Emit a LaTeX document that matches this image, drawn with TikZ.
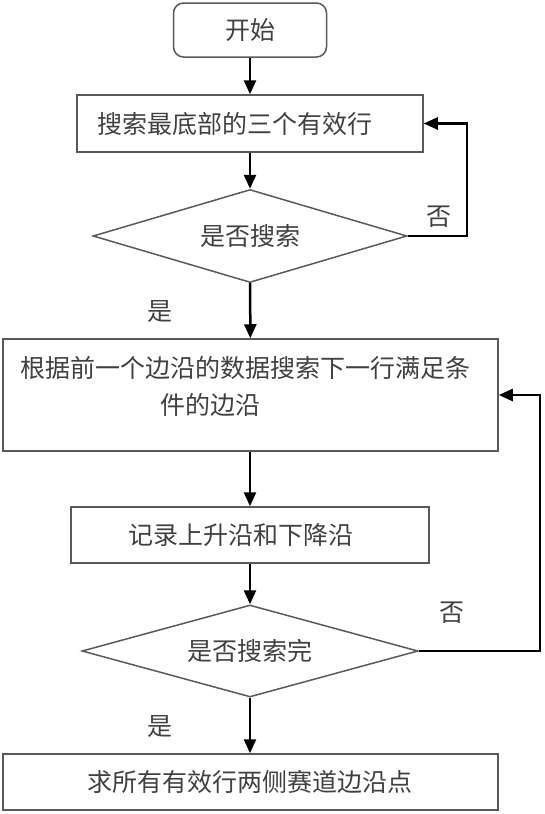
\documentclass[tikz,border=0pt]{standalone}
\usepackage{fontspec}
\newfontfamily\cjk{Noto Sans CJK SC}
\usetikzlibrary{shapes.geometric,arrows.meta}
\begin{document}
\begin{tikzpicture}[x=1pt, y=-1pt,
  every node/.style={font=\cjk\fontsize{25}{37}\selectfont, text=black!75},
  box/.style={draw=black!65, line width=1.5pt, align=left, inner ysep=0pt},
  decide/.style={diamond, aspect=3.5, draw=black!65, line width=1.5pt, inner sep=0pt},
  flow/.style={line width=2.5pt, -{Triangle[width=12pt,length=14pt]}}]
  \useasboundingbox (0,0) rectangle (544,814);
  \node[box, rounded corners=10pt, align=center, minimum width=153pt, minimum height=54pt] (start) at (250,30) {开始};
  \node[box, text width=306pt, inner xsep=20pt, minimum height=57pt] (find) at (250,123.5) {搜索最底部的三个有效行};
  \node[decide, minimum width=314pt, minimum height=93pt] (ask) at (250,236) {是否搜索};
  \node[box, text width=461pt, inner xsep=17pt, minimum height=112pt] (next) at (250.5,395)
    {根据前一个边沿的数据搜索下一行满足条\\\hspace*{140pt}件的边沿\\[-18pt]\mbox{}};
  \node[box, text width=244pt, inner xsep=57pt, minimum height=56pt] (mark) at (250,535) {记录上升沿和下降沿};
  \node[decide, minimum width=336pt, minimum height=92pt] (done) at (250,651) {是否搜索完};
  \node[box, text width=327pt, inner xsep=84pt, minimum height=56pt] (edge) at (250.5,782) {求所有有效行两侧赛道边沿点};
  % labels
  \node (yes1) at (160,312) {是};
  \node (no1) at (439,217) {否};
  \node (yes2) at (160,727) {是};
  \node (no2) at (452,613) {否};
  \coordinate (loopa) at (467,0);
  \coordinate (loopb) at (540,0);
  % arrows
  \draw[flow] (start) -- (find);
  \draw[flow] (find) -- (ask);
  \draw[flow] (ask) -- (next);
  \draw[flow] (ask.east) -- (ask.east -| loopa) |- (find.east);
  \draw[flow] (next.south -| mark.north) -- (mark);
  \draw[flow] (mark) -- (done);
  \draw[flow] (done.east) -- (done.east -| loopb) |- (next.east);
  \draw[flow] (done) -- (done.south |- edge.north);
\end{tikzpicture}
\end{document}
